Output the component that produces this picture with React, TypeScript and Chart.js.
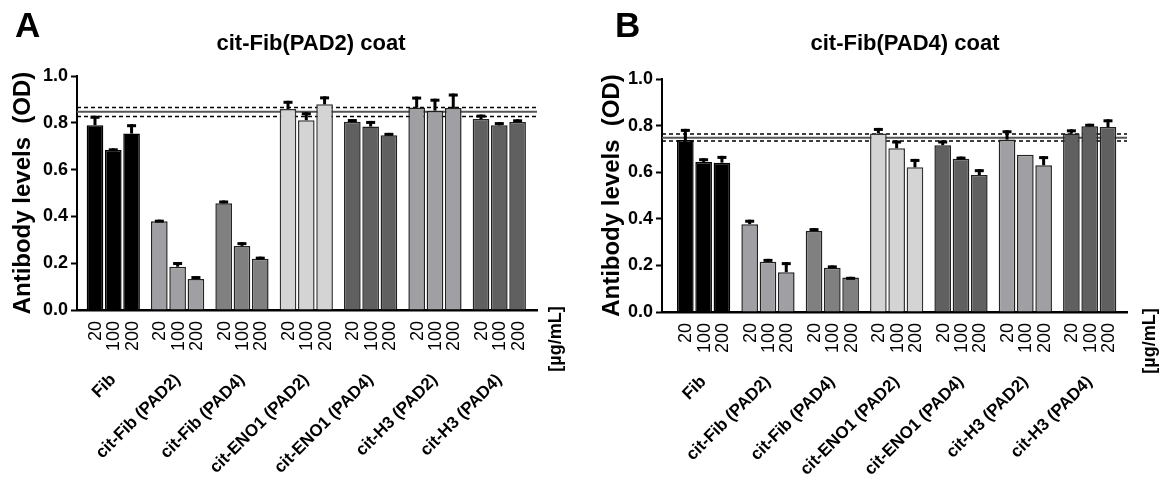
import React, { useEffect, useRef } from 'react';
import { Chart, registerables } from 'chart.js';

Chart.register(...registerables);

const FONT = '"Liberation Sans", Arial, Helvetica, sans-serif';

const groups = ['Fib', 'cit-Fib (PAD2)', 'cit-Fib (PAD4)', 'cit-ENO1 (PAD2)', 'cit-ENO1 (PAD4)', 'cit-H3 (PAD2)', 'cit-H3 (PAD4)'];
const concentrations = ['20', '100', '200'];
const unitLabel = '[µg/mL]';
const yTitle = 'Antibody levels  (OD)';

// Panel A: cit-Fib(PAD2) coat
const a20 = [0.79, 0.379, 0.456, 0.859, 0.805, 0.865, 0.816];
const a100 = [0.684, 0.185, 0.274, 0.811, 0.784, 0.852, 0.789];
const a200 = [0.754, 0.132, 0.219, 0.879, 0.747, 0.863, 0.803];
const aErr20 = [0.04, 0.007, 0.012, 0.035, 0.011, 0.047, 0.019];
const aErr100 = [0.007, 0.02, 0.016, 0.034, 0.024, 0.051, 0.014];
const aErr200 = [0.04, 0.013, 0.009, 0.034, 0.01, 0.062, 0.012];
const aCutoff = 0.847;
const aBand = [0.827, 0.865];

// Panel B: cit-Fib(PAD4) coat
const b20 = [0.738, 0.377, 0.348, 0.766, 0.716, 0.74, 0.766];
const b100 = [0.644, 0.216, 0.19, 0.703, 0.658, 0.675, 0.797];
const b200 = [0.641, 0.171, 0.148, 0.621, 0.588, 0.63, 0.794];
const bErr20 = [0.048, 0.019, 0.012, 0.024, 0.02, 0.04, 0.018];
const bErr100 = [0.016, 0.012, 0.01, 0.033, 0.009, 0, 0.011];
const bErr200 = [0.029, 0.043, 0.003, 0.036, 0.025, 0.039, 0.033];
const bCutoff = 0.748;
const bBand = [0.734, 0.764];

const groupColors = ['#000000', '#a0a0a4', '#808080', '#d4d4d4', '#606060', '#a0a0a4', '#606060'];
const borderColors = ['#000000', '#222222', '#222222', '#333333', '#222222', '#222222', '#222222'];

type PanelCfg = {
  letter: string;
  title: string;
  values: number[][];
  errors: number[][];
  cutoff: number;
  band: number[];
  width: number;
  yw: number;
  top: number;
  right: number;
  xh: number;
  xmin: number;
  xmax: number;
  titleX: number;
  letterX: number;
  unitX: number;
  unitY: number;
  yTitlePad: number;
};

function buildChart(canvas: HTMLCanvasElement, cfg: PanelCfg) {
  const datasets = cfg.values.map((vals, di) => ({
    label: concentrations[di],
    data: vals.map((y, gi) => ({ x: gi, y })),
    backgroundColor: groupColors,
    borderColor: borderColors,
    borderWidth: 1.5,
    categoryPercentage: 0.853,
    barPercentage: 0.91,
  }));

  const overlay = {
    id: 'overlay' + cfg.letter,
    beforeDatasetsDraw(chart: any) {
      const { ctx, chartArea } = chart;
      const ys = chart.scales.y;
      ctx.save();
      ctx.strokeStyle = '#555555';
      ctx.lineWidth = 2;
      ctx.setLineDash([]);
      const yy = ys.getPixelForValue(cfg.cutoff);
      ctx.beginPath();
      ctx.moveTo(chartArea.left, yy);
      ctx.lineTo(chartArea.right, yy);
      ctx.stroke();
      ctx.strokeStyle = '#000000';
      ctx.lineWidth = 1.5;
      ctx.setLineDash([4, 3]);
      cfg.band.forEach((v) => {
        const p = ys.getPixelForValue(v);
        ctx.beginPath();
        ctx.moveTo(chartArea.left, p);
        ctx.lineTo(chartArea.right, p);
        ctx.stroke();
      });
      ctx.restore();
    },
    afterDatasetsDraw(chart: any) {
      const { ctx } = chart;
      const ys = chart.scales.y;
      ctx.save();
      ctx.fillStyle = '#000000';
      cfg.errors.forEach((errs, di) => {
        const meta = chart.getDatasetMeta(di);
        meta.data.forEach((el: any, gi: number) => {
          const v = cfg.values[di][gi];
          const e = errs[gi];
          if (!(e > 0)) return;
          const yTop = ys.getPixelForValue(v + e);
          const yBar = ys.getPixelForValue(v);
          ctx.fillRect(el.x - 1.5, yTop, 3, Math.max(yBar - yTop, 0));
          ctx.fillRect(el.x - 4.5, yTop, 9, 3);
        });
      });
      ctx.restore();
    },
    afterDraw(chart: any) {
      const { ctx, chartArea } = chart;
      ctx.save();
      ctx.fillStyle = '#000000';
      // panel letter
      ctx.font = `bold 35px ${FONT}`;
      ctx.textAlign = 'left';
      ctx.textBaseline = 'alphabetic';
      ctx.fillText(cfg.letter, cfg.letterX, 37);
      // title
      ctx.font = `bold 22px ${FONT}`;
      ctx.textAlign = 'center';
      ctx.textBaseline = 'middle';
      ctx.fillText(cfg.title, cfg.titleX, 44);
      // concentration labels under bars
      ctx.font = `18px ${FONT}`;
      ctx.textAlign = 'right';
      ctx.textBaseline = 'middle';
      cfg.values.forEach((_vals, di) => {
        const meta = chart.getDatasetMeta(di);
        meta.data.forEach((el: any) => {
          ctx.save();
          ctx.translate(el.x + 1, chartArea.bottom + 11);
          ctx.rotate(-Math.PI / 2);
          ctx.fillText(concentrations[di], 0, 0);
          ctx.restore();
        });
      });
      // unit label
      ctx.font = `bold 18px ${FONT}`;
      ctx.textAlign = 'center';
      ctx.textBaseline = 'middle';
      ctx.save();
      ctx.translate(cfg.unitX, cfg.unitY);
      ctx.rotate(-Math.PI / 2);
      ctx.fillText(unitLabel, 0, 0);
      ctx.restore();
      ctx.restore();
    },
  };

  return new Chart(canvas, {
    type: 'bar',
    data: { datasets } as any,
    options: {
      responsive: false,
      animation: false,
      layout: { padding: { left: 0, top: cfg.top, right: cfg.right, bottom: 0 } },
      plugins: {
        legend: { display: false },
        tooltip: { enabled: false },
        title: { display: false },
      },
      scales: {
        x: {
          type: 'linear',
          min: cfg.xmin,
          max: cfg.xmax,
          offset: false,
          grid: { display: false, offset: false },
          border: { display: true, color: '#000000', width: 2.5 },
          ticks: {
            stepSize: 1,
            includeBounds: false,
            autoSkip: false,
            maxRotation: 45,
            minRotation: 45,
            padding: 52,
            color: '#000000',
            font: { family: FONT, size: 17, weight: 'bold' },
            callback: (v: any) => (Number.isInteger(v) && groups[v] !== undefined ? groups[v] : ''),
          },
          afterFit: (s: any) => {
            s.height = cfg.xh;
          },
        },
        y: {
          min: 0,
          max: 1,
          grid: { drawOnChartArea: false, drawTicks: true, tickLength: 6, tickColor: '#000000', tickWidth: 2 },
          border: { display: true, color: '#000000', width: 2 },
          ticks: {
            stepSize: 0.2,
            padding: 3,
            color: '#000000',
            font: { family: FONT, size: 18, weight: 'bold' },
            callback: (v: any) => Number(v).toFixed(1),
          },
          title: {
            display: true,
            text: yTitle,
            color: '#000000',
            font: { family: FONT, size: 24, weight: 'bold' },
            padding: { top: cfg.yTitlePad, bottom: 0 },
          },
          afterFit: (s: any) => {
            s.width = cfg.yw;
          },
        },
      },
    } as any,
    plugins: [overlay],
  });
}

const panelA: PanelCfg = {
  letter: 'A',
  title: 'cit-Fib(PAD2) coat',
  values: [a20, a100, a200],
  errors: [aErr20, aErr100, aErr200],
  cutoff: aCutoff,
  band: aBand,
  width: 590,
  yw: 77,
  top: 76,
  right: 53,
  xh: 169,
  xmin: -0.564,
  xmax: 6.586,
  titleX: 311,
  letterX: 15,
  unitX: 556,
  unitY: 339,
  yTitlePad: 8.6,
};

const panelB: PanelCfg = {
  letter: 'B',
  title: 'cit-Fib(PAD4) coat',
  values: [b20, b100, b200],
  errors: [bErr20, bErr100, bErr200],
  cutoff: bCutoff,
  band: bBand,
  width: 583,
  yw: 72,
  top: 79,
  right: 46,
  xh: 167,
  xmin: -0.647,
  xmax: 6.58,
  titleX: 315,
  letterX: 25,
  unitX: 560,
  unitY: 341,
  yTitlePad: 7.6,
};

function Panel({ cfg, left }: { cfg: PanelCfg; left: number }) {
  const ref = useRef<HTMLCanvasElement | null>(null);
  useEffect(() => {
    if (!ref.current) return;
    const chart = buildChart(ref.current, cfg);
    return () => chart.destroy();
  }, [cfg]);
  return (
    <canvas
      ref={ref}
      width={cfg.width}
      height={479}
      style={{ position: 'absolute', left, top: 0, width: cfg.width, height: 479, display: 'block' }}
    />
  );
}

export default function App() {
  return (
    <div style={{ position: 'absolute', left: 0, top: 0, width: 1173, height: 479, background: '#ffffff', overflow: 'hidden' }}>
      <Panel cfg={panelA} left={0} />
      <Panel cfg={panelB} left={590} />
    </div>
  );
}
